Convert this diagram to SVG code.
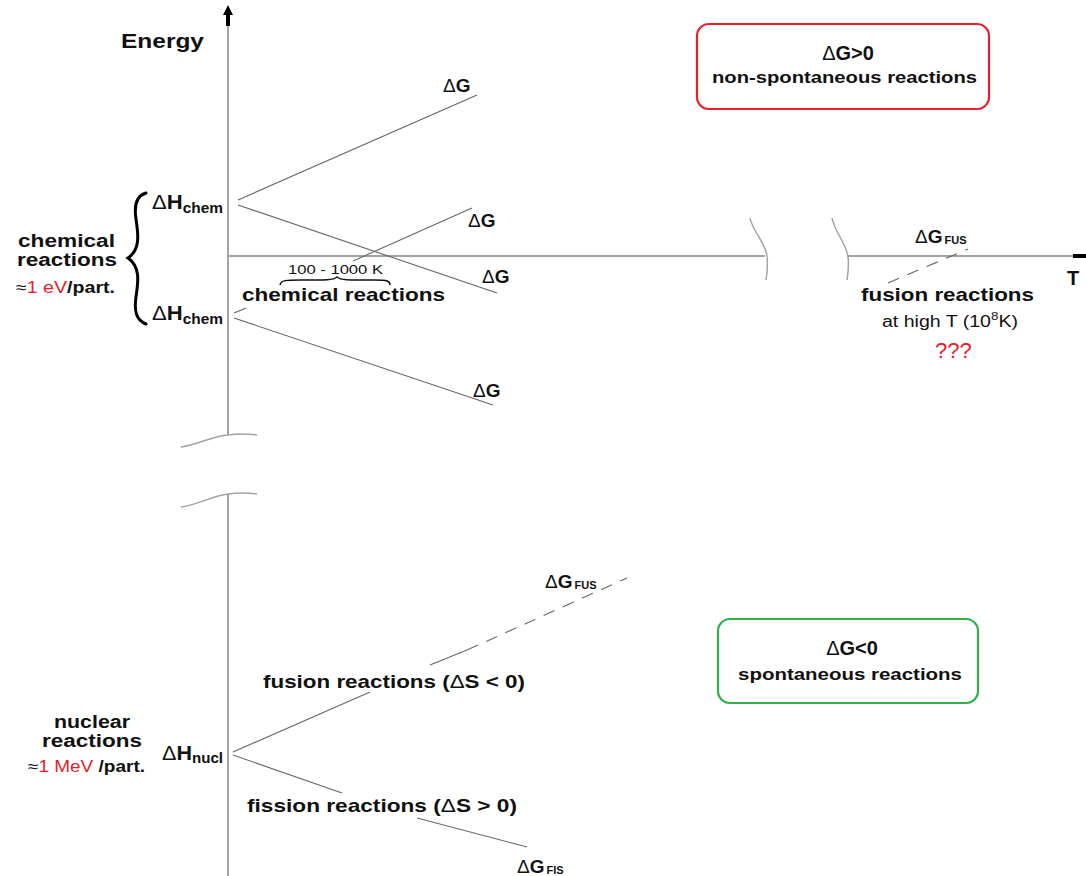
<svg xmlns="http://www.w3.org/2000/svg" width="1086" height="876" viewBox="0 0 1086 876">
<style>
text{font-family:"Liberation Sans",Arial,sans-serif;fill:#111}
.b{font-weight:bold}
.big{font-size:19px;font-weight:bold}
.d{font-weight:normal}
.sub{font-size:14px;font-weight:bold}
.axis{stroke:#a3a3a3;stroke-width:2;fill:none}
.brk{stroke:#a3a3a3;stroke-width:1.5;fill:none}
.ln{stroke:#666;stroke-width:1.1;fill:none}
.dash{stroke:#666;stroke-width:1.1;fill:none;stroke-dasharray:12 9}
.red{fill:#e8202a}
</style>
<rect width="1086" height="876" fill="#fff"/>
<g id="axes">
<path class="axis" d="M228,20 V435 M228,494 V876 M228,256 H765 M847,256 H1076"/>
<path class="brk" d="M181,447 C200,444 212,436 228,435 C240,433 250,434 257,435"/>
<path class="brk" d="M181,507 C200,504 212,496 228,494 C240,492 250,493 257,494"/>
<path class="brk" d="M750,218 C752,230 766,244 767,256 C768,266 767,274 766,280"/>
<path class="brk" d="M832,218 C834,230 846,244 848,256 C849,266 848,274 847,280"/>
<path d="M228,5 L233,15 L230,15 L230,26 L226,26 L226,15 L223,15 Z" fill="#000"/>
<path d="M1073,256 H1086" stroke="#000" stroke-width="4"/>
</g>
<g id="connectors">
<path class="ln" d="M238,200 L477,95"/>
<path class="ln" d="M238,205 L497,293"/>
<path class="ln" d="M353,261 L472,208"/>
<path class="ln" d="M234,313 L246,308"/>
<path class="ln" d="M234,318 L493,405"/>
<path class="dash" d="M888,283 L968,249"/>
<path class="ln" d="M233,752 L370,692 M430,665 L467,650"/>
<path class="dash" d="M467,650 L627,578"/>
<path class="ln" d="M233,755 L342,793 M417,818 L527,847"/>
<path d="M280,285 C281,280 286,280 300,280 C320,280 332,281 337,277 C342,281 354,280 374,280 C388,280 390,281 390,285" fill="none" stroke="#111" stroke-width="1.5"/>
<path d="M146,193 C136,196 134,206 136,219 C138,233 141,249 128,258 C141,267 138,283 136,297 C134,311 136,320 146,324" fill="none" stroke="#000" stroke-width="3" stroke-linecap="round"/>
</g>
<g id="energy-label"><text x="121" y="48" font-size="20" class="b" textLength="83" lengthAdjust="spacingAndGlyphs">Energy</text></g>
<g id="t-label"><text x="1067" y="285" font-size="20" class="b">T</text></g>
<g id="box-positive">
<rect x="697" y="24" width="292" height="85" rx="12" fill="none" stroke="#e8202a" stroke-width="2.2"/>
<text x="848" y="60" font-size="20" class="b" text-anchor="middle"><tspan class="d">Δ</tspan>G&gt;0</text>
<text x="712" y="83" font-size="16" class="b" textLength="265" lengthAdjust="spacingAndGlyphs">non-spontaneous reactions</text>
</g>
<g id="box-negative">
<rect x="718" y="619" width="260" height="84" rx="12" fill="none" stroke="#2fb04a" stroke-width="2.2"/>
<text x="852" y="655" font-size="20" class="b" text-anchor="middle"><tspan class="d">Δ</tspan>G&lt;0</text>
<text x="738" y="680" font-size="16" class="b" textLength="224" lengthAdjust="spacingAndGlyphs">spontaneous reactions</text>
</g>
<g id="chemical-label">
<text x="18" y="247" font-size="18" class="b" textLength="97" lengthAdjust="spacingAndGlyphs">chemical</text>
<text x="17" y="266" font-size="18" class="b" textLength="100" lengthAdjust="spacingAndGlyphs">reactions</text>
<text x="16" y="293" font-size="16" textLength="99" lengthAdjust="spacingAndGlyphs">≈<tspan class="red">1 eV</tspan><tspan class="b">/part.</tspan></text>
</g>
<g id="dh-chem-upper"><text x="152" y="209" font-size="20" class="b" textLength="71" lengthAdjust="spacingAndGlyphs"><tspan class="d">Δ</tspan>H<tspan class="sub" dy="4">chem</tspan></text></g>
<g id="dh-chem-lower"><text x="152" y="320" font-size="20" class="b" textLength="71" lengthAdjust="spacingAndGlyphs"><tspan class="d">Δ</tspan>H<tspan class="sub" dy="4">chem</tspan></text></g>
<g id="dg-1"><text x="443" y="92" class="big"><tspan class="d">Δ</tspan>G</text></g>
<g id="dg-2"><text x="468" y="227" class="big"><tspan class="d">Δ</tspan>G</text></g>
<g id="dg-3"><text x="482" y="283" class="big"><tspan class="d">Δ</tspan>G</text></g>
<g id="dg-4"><text x="473" y="397" class="big"><tspan class="d">Δ</tspan>G</text></g>
<g id="range-label"><text x="288" y="274" font-size="13" textLength="95" lengthAdjust="spacingAndGlyphs">100 - 1000 K</text></g>
<g id="chem-reactions"><text x="242" y="301" class="big" textLength="203" lengthAdjust="spacingAndGlyphs">chemical reactions</text></g>
<g id="dg-fus-high"><text x="915" y="243" class="big"><tspan class="d">Δ</tspan>G<tspan font-size="11" class="b" dx="2" dy="1">FUS</tspan></text></g>
<g id="fusion-high">
<text x="861" y="301" class="big" textLength="173" lengthAdjust="spacingAndGlyphs">fusion reactions</text>
<text x="882" y="327" font-size="16" textLength="136" lengthAdjust="spacingAndGlyphs">at high T (10<tspan font-size="11" dy="-7">8</tspan><tspan dy="7">K)</tspan></text>
<text x="935" y="358" font-size="22" class="red">???</text>
</g>
<g id="nuclear-label">
<text x="54" y="728" font-size="18" class="b" textLength="76" lengthAdjust="spacingAndGlyphs">nuclear</text>
<text x="42" y="747" font-size="18" class="b" textLength="100" lengthAdjust="spacingAndGlyphs">reactions</text>
<text x="28" y="772" font-size="16" textLength="117" lengthAdjust="spacingAndGlyphs">≈<tspan class="red">1 MeV</tspan><tspan class="b"> /part.</tspan></text>
</g>
<g id="dh-nucl"><text x="162" y="760" font-size="20" class="b" textLength="61" lengthAdjust="spacingAndGlyphs"><tspan class="d">Δ</tspan>H<tspan class="sub" dy="3">nucl</tspan></text></g>
<g id="dg-fus-low"><text x="545" y="588" class="big"><tspan class="d">Δ</tspan>G<tspan font-size="11" class="b" dx="2" dy="1">FUS</tspan></text></g>
<g id="fusion-low"><text x="263" y="688" class="big" textLength="262" lengthAdjust="spacingAndGlyphs">fusion reactions (<tspan class="d">Δ</tspan>S &lt; 0)</text></g>
<g id="fission"><text x="247" y="812" class="big" textLength="270" lengthAdjust="spacingAndGlyphs">fission reactions (<tspan class="d">Δ</tspan>S &gt; 0)</text></g>
<g id="dg-fis"><text x="517" y="873" class="big"><tspan class="d">Δ</tspan>G<tspan font-size="11" class="b" dx="2" dy="1">FIS</tspan></text></g>
</svg>
